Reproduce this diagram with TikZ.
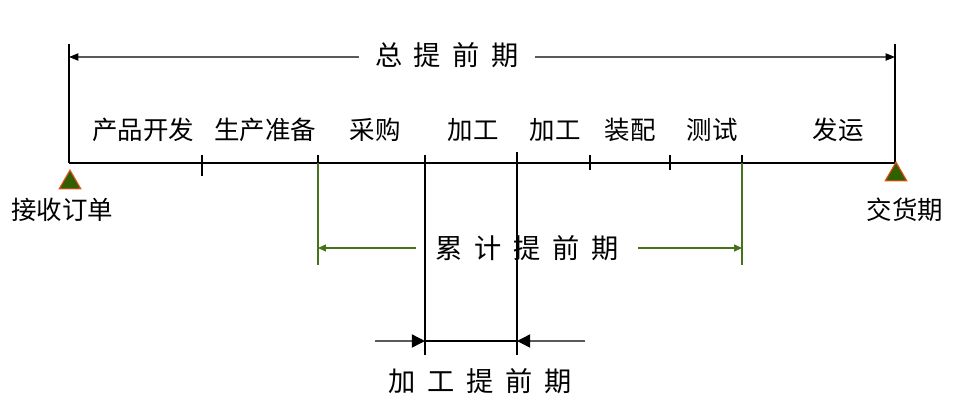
\documentclass[tikz,border=0pt]{standalone}
\usepackage{fontspec}
\newfontfamily\cjk{Noto Sans CJK SC}
\newfontfamily\cjkwide[WordSpace=1.9]{Noto Sans CJK SC}
\usetikzlibrary{arrows.meta,shapes.geometric,positioning}
\definecolor{leadgreen}{RGB}{70,115,25}
\definecolor{flaggreen}{RGB}{50,95,0}
\definecolor{flagred}{RGB}{235,80,30}
\definecolor{leadgray}{RGB}{90,90,90}
\tikzset{
  axis/.style={line width=0.6pt,black},
  phase/.style={font=\cjk\fontsize{14.5}{16}\selectfont,inner sep=1pt},
  span/.style={font=\cjkwide\fontsize{15.5}{18}\selectfont,inner sep=1pt},
  milestone/.style={regular polygon,regular polygon sides=3,draw=flagred,
    fill=flaggreen,line width=0.6pt,minimum size=0.5cm,inner sep=0pt},
  totalarrow/.style={line width=0.6pt,leadgray,-{Triangle[length=9pt*0.6,width=7pt*0.6,black]}},
  cumline/.style={line width=0.6pt,leadgreen},
  cumarrow/.style={line width=0.6pt,leadgreen,-{Triangle[length=4.5pt,width=4pt]}},
  procarrow/.style={line width=0.8pt,leadgray,-{Triangle[length=7.5pt,width=7.5pt,black]}}
}
\begin{document}
\begin{tikzpicture}[x=0.02cm,y=-0.02cm]
  \useasboundingbox (0,0) rectangle (969,403);
  % time axis
  \coordinate (t0) at (69,163);
  \coordinate (t1) at (895,163);
  \coordinate (top0) at (69,44);
  \coordinate (top1) at (895,44);
  \draw[axis] (t0) -- (t1);
  \draw[axis] (top0) -- (t0);
  \draw[axis] (top1) -- (t1);
  \foreach \x/\a/\b in {202/155/176,318/155/163,590/155/170,670/155/170,742/155/163}
    \draw[axis] (\x,\a) -- (\x,\b);
  % order and delivery
  \node[milestone,anchor=corner 1] (order) at (70,169) {};
  \node[milestone,anchor=corner 1] (due) at (896,161) {};
  \node[phase] (orderlbl) at (62,210) {接收订单};
  \node[phase] (duelbl) at (905,210) {交货期};
  % phases
  \foreach \x/\t [count=\i] in {143/产品开发,265/生产准备,375/采购,473/加工,
      555/加工,630/装配,712/测试,838/发运}
    \node[phase] (ph\i) at (\x,130) {\t};
  % total lead time
  \node[span,inner xsep=15pt*0.6] (total) at (447,55) {总 提 前 期};
  \coordinate (tot0) at (69,57);
  \coordinate (tot1) at (895,57);
  \draw[totalarrow] (total.west|-tot0) -- (tot0);
  \draw[totalarrow] (total.east|-tot1) -- (tot1);
  % cumulative lead time
  \coordinate (cum0) at (318,163);
  \coordinate (cum1) at (742,163);
  \coordinate (cumL) at (318,265);
  \coordinate (cumR) at (742,265);
  \draw[cumline] (cum0) -- (cumL);
  \draw[cumline] (cum1) -- (cumR);
  \node[span,inner xsep=11pt] (cum) at (527,248) {累 计 提 前 期};
  \draw[cumarrow] (cum.west) -- (cum.west-|cumL);
  \draw[cumarrow] (cum.east) -- (cum.east-|cumR);
  % processing lead time
  \coordinate (pr0) at (425,155);
  \coordinate (pr1) at (517,152);
  \coordinate (prL) at (425,341);
  \coordinate (prR) at (517,341);
  \coordinate (prL2) at (425,355);
  \coordinate (prR2) at (517,355);
  \coordinate (inL) at (375,341);
  \coordinate (inR) at (585,341);
  \draw[axis] (pr0) -- (prL2);
  \draw[axis] (pr1) -- (prR2);
  \draw[axis] (prL) -- (prR);
  \draw[procarrow] (inL) -- (prL);
  \draw[procarrow] (inR) -- (prR);
  \node[span] (proc) at (480,381) {加 工 提 前 期};
\end{tikzpicture}
\end{document}
